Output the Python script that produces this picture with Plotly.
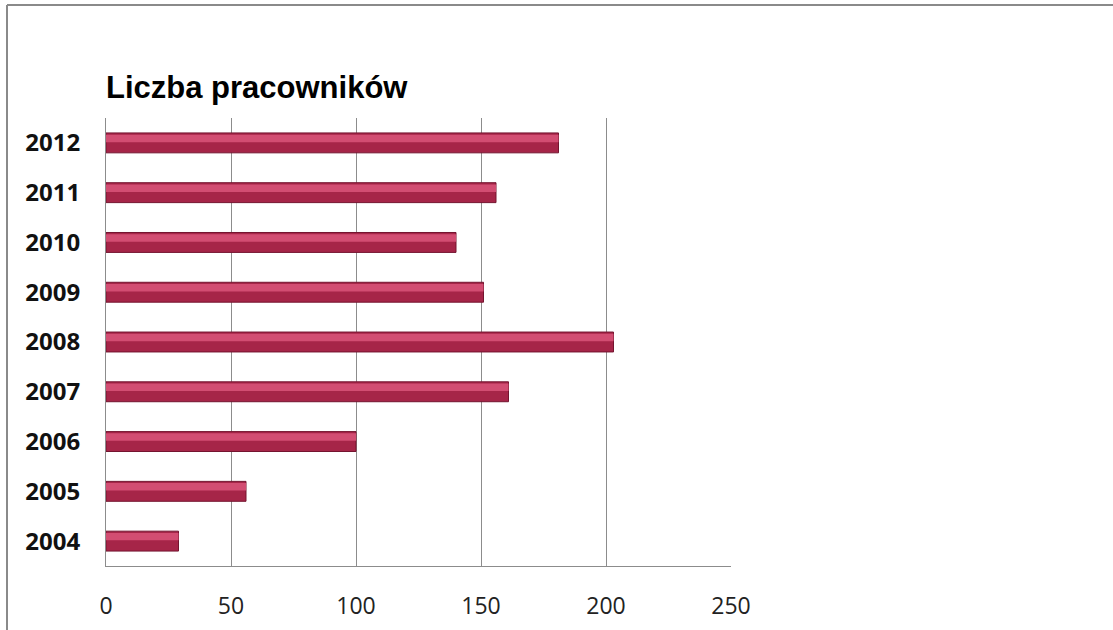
import plotly.graph_objects as go

years = ["2004", "2005", "2006", "2007", "2008", "2009", "2010", "2011", "2012"]
employees = [29, 56, 100, 161, 203, 151, 140, 156, 181]
x_ticks = [0, 50, 100, 150, 200, 250]
title_text = "Liczba pracowników"

W, H = 1113, 630
L, R, T, B = 106, 731, 118, 566

fig = go.Figure()
fig.add_trace(go.Bar(
    y=years, x=employees, orientation="h",
    marker=dict(color="#a62548", line=dict(color="#74142f", width=1)),
    width=0.4, offset=-0.2,
))
# lighter upper band (bevel highlight) on the same bars
fig.add_trace(go.Bar(
    y=years, x=employees, orientation="h",
    marker=dict(color="#d24d72", line=dict(width=0)),
    width=0.15, offset=0.015, hoverinfo="skip",
))

def px_x(p):
    return (p - L) / (R - L)

def px_y(p):
    return (B - p) / (B - T)

fig.update_layout(
    width=W, height=H,
    margin=dict(l=L, r=W - R, t=T, b=H - B, pad=0),
    paper_bgcolor="white", plot_bgcolor="white",
    showlegend=False, barmode="overlay",
    xaxis=dict(
        range=[0, 250], tickvals=x_ticks, ticktext=[str(v) for v in x_ticks],
        showgrid=True, gridcolor="#8c8c8c", gridwidth=1,
        showline=True, linecolor="#8c8c8c", linewidth=1,
        zeroline=False, ticks="", ticklabelstandoff=19, automargin=False,
        tickfont=dict(family="Open Sans", size=23, color="#222222"),
        fixedrange=True,
    ),
    yaxis=dict(
        type="category", categoryorder="array", categoryarray=years,
        range=[-0.5, 8.5],
        showgrid=False, showline=True, linecolor="#8c8c8c", linewidth=1,
        zeroline=False, ticks="", ticklabelstandoff=20, automargin=False,
        tickfont=dict(family="Open Sans", size=24, color="#111111", weight="bold"),
        fixedrange=True,
    ),
    shapes=[
        dict(type="line", xref="paper", yref="paper",
             x0=px_x(7), x1=px_x(W + 5), y0=px_y(5), y1=px_y(5),
             line=dict(color="#8a8a8a", width=2)),
        dict(type="line", xref="paper", yref="paper",
             x0=px_x(7), x1=px_x(7), y0=px_y(5), y1=px_y(H + 5),
             line=dict(color="#8a8a8a", width=2)),
    ],
    annotations=[
        dict(text=title_text, xref="paper", yref="paper",
             x=0, y=px_y(88), xanchor="left", yanchor="middle", showarrow=False,
             xshift=-2,
             font=dict(family="Liberation Sans", size=31, color="#000000", weight="bold")),
    ],
)

fig.write_html("out.html", config={"displayModeBar": False})
